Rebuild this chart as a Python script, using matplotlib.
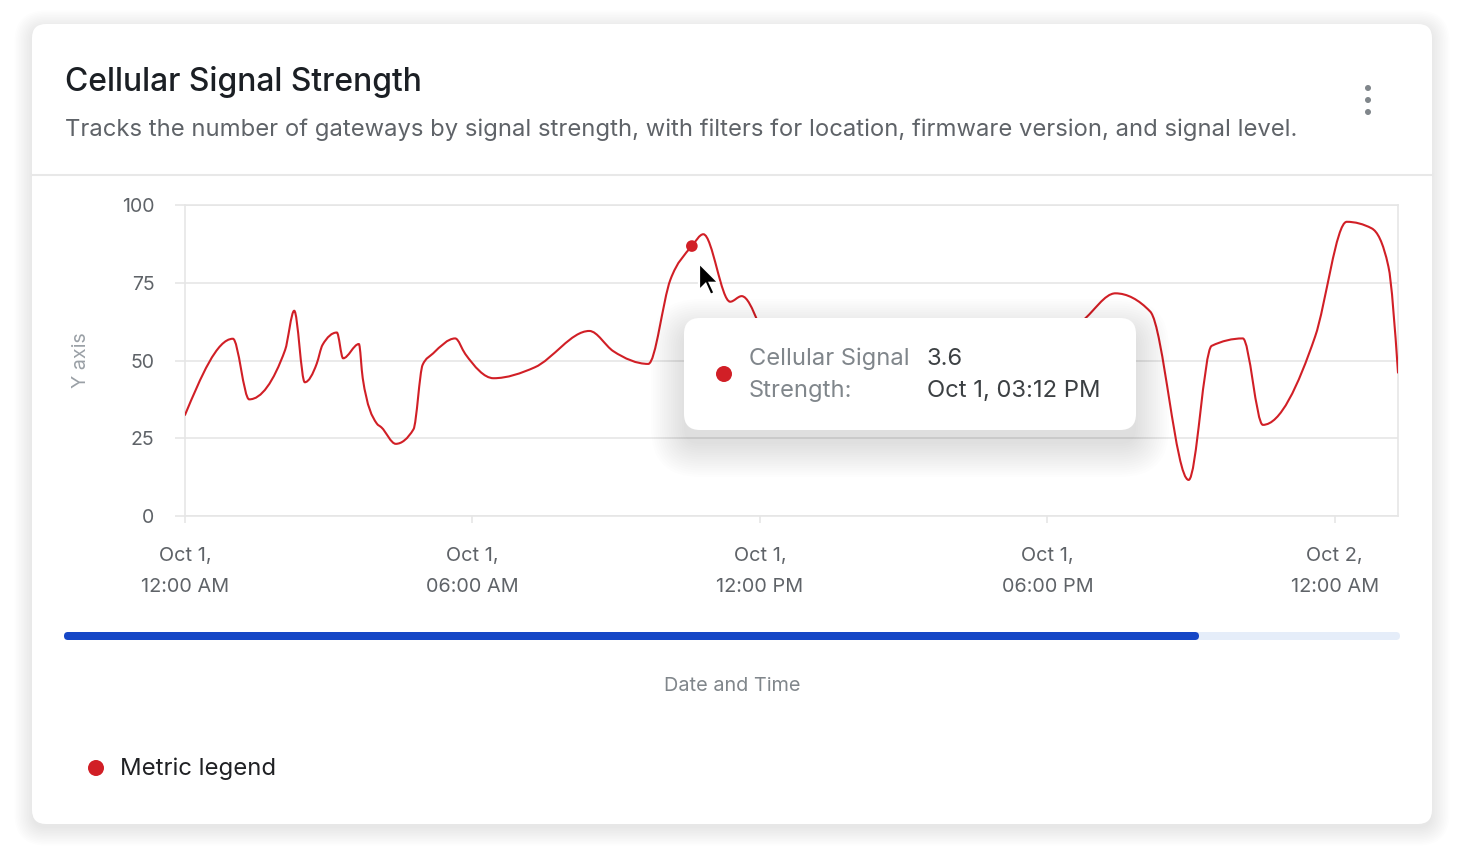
import numpy as np
import matplotlib
matplotlib.use("Agg")
import matplotlib.pyplot as plt
from matplotlib.patches import FancyBboxPatch, PathPatch, Polygon, Circle
from matplotlib.path import Path

plt.rcParams['font.family'] = ['Inter', 'DejaVu Sans']

# ---------------- data ----------------
hours = [0.0, 1.0, 1.34, 2.09, 2.28, 2.5, 2.75, 2.87, 3.17, 3.3, 3.63, 3.71,
         4.0, 4.1, 4.4, 4.77, 4.96, 5.18, 5.64, 5.85, 6.44, 7.3, 8.44, 8.94,
         9.67, 10.13, 10.58, 10.82, 11.38, 11.62, 12.3, 13.4, 14.8, 16.2,
         17.6, 18.75, 19.42, 20.15, 20.95, 21.43, 22.08, 22.5, 23.59, 24.25,
         24.77, 25.12, 25.32]
values = [32.5, 57.0, 37.5, 53.4, 66.0, 43.0, 49.0, 55.0, 59.0, 50.7, 55.3, 44.3,
          29.8, 28.5, 23.2, 27.9, 48.6, 52.3, 57.1, 52.1, 44.3, 47.8, 59.5, 53.0,
          48.9, 75.9, 86.8, 90.6, 68.9, 70.7, 52.0, 46.0, 55.0, 44.0,
          50.0, 63.0, 71.6, 65.7, 11.6, 54.7, 57.1, 29.3, 57.7, 94.6,
          92.5, 80.2, 46.1]
x_ticks = [0, 6, 12, 18, 24]
x_tick_labels = ["Oct 1,\n12:00 AM", "Oct 1,\n06:00 AM", "Oct 1,\n12:00 PM",
                 "Oct 1,\n06:00 PM", "Oct 2,\n12:00 AM"]
y_ticks = [0, 25, 50, 75, 100]
hover_index = 26
tooltip_value = "3.6"
tooltip_time = "Oct 1, 03:12 PM"

RED = '#D11F26'
W, H = 1464, 864

fig = plt.figure(figsize=(W / 100, H / 100), dpi=100)
fig.patch.set_facecolor('white')

# background canvas in pixel coords
bg = fig.add_axes([0, 0, 1, 1], zorder=0)
bg.set_xlim(0, W)
bg.set_ylim(H, 0)
bg.axis('off')

# card shadow
for i in range(12):
    s = i * 1.6
    bg.add_patch(FancyBboxPatch((32 - s, 24 - s + 4), 1400 + 2 * s, 800 + 2 * s,
                                boxstyle="round,pad=0,rounding_size=%f" % (14 + s),
                                fc='black', ec='none', alpha=0.006, zorder=1))
bg.add_patch(FancyBboxPatch((32, 24), 1400, 800,
                            boxstyle="round,pad=0,rounding_size=14",
                            fc='white', ec='none', zorder=2))
bg.plot([32, 1432], [175, 175], color='#E8E8E8', lw=1.5, zorder=3)

bg.text(65, 82.5, "Cellular Signal Strength", fontsize=22.95, color='#1B1F24',
        fontweight='medium', va='center', ha='left', zorder=4)
bg.text(65, 129.5, "Tracks the number of gateways by signal strength, with filters for location, firmware version, and signal level.",
        fontsize=17.15, color='#5F6368', va='center', ha='left', zorder=4)
for yy in (88, 100, 112):
    bg.add_patch(Circle((1368, yy), 3, fc='#80868B', ec='none', zorder=4))

# slider
bg.add_patch(FancyBboxPatch((64, 632), 1336, 8, boxstyle="round,pad=0,rounding_size=4",
                            fc='#E5EDF9', ec='none', zorder=4))
bg.add_patch(FancyBboxPatch((64, 632), 1135, 8, boxstyle="round,pad=0,rounding_size=4",
                            fc='#1546C6', ec='none', zorder=5))

bg.text(732, 686, "Date and Time", fontsize=14.3, color='#80868B', ha='center', va='center', zorder=4)
bg.text(81, 360, "Y axis", fontsize=14.2, color='#9AA0A6', ha='center', va='center',
        rotation=90, zorder=4)

# legend
bg.add_patch(Circle((96, 768), 8, fc=RED, ec='none', zorder=4))
bg.text(120, 769, "Metric legend", fontsize=17.2, color='#202124', ha='left', va='center', zorder=4)

# ---------------- main axes ----------------
L, R, T, B = 185, 1398, 205, 516
ax = fig.add_axes([L / W, 1 - B / H, (R - L) / W, (B - T) / H], zorder=2)
ax.set_facecolor('none')
ax.set_xlim(0, 25.32)
ax.set_ylim(0, 100)
for sp in ax.spines.values():
    sp.set_color('#E6E6E6')
    sp.set_linewidth(1.2)
ax.set_yticks(y_ticks)
ax.set_yticklabels([str(v) for v in y_ticks])
ax.set_xticks(x_ticks)
ax.set_xticklabels(x_tick_labels, linespacing=1.95)
ax.tick_params(axis='y', length=7, width=1.2, color='#E6E6E6', pad=15,
               labelsize=14, labelcolor='#5F6368')
ax.tick_params(axis='x', length=5, width=1.2, color='#E6E6E6', pad=17,
               labelsize=14.3, labelcolor='#5F6368')
ax.grid(axis='y', color='#E6E6E6', lw=1.2)
ax.set_axisbelow(True)


def monotone_path(xs, ys):
    xs = np.asarray(xs, float)
    ys = np.asarray(ys, float)
    n = len(xs)
    h = np.diff(xs)
    s = np.diff(ys) / h
    m = np.zeros(n)
    for i in range(1, n - 1):
        s0, s1 = s[i - 1], s[i]
        p = (s0 * h[i] + s1 * h[i - 1]) / (h[i - 1] + h[i])
        m[i] = (np.sign(s0) + np.sign(s1)) * min(abs(s0), abs(s1), 0.5 * abs(p))
    m[0] = (3 * s[0] - m[1]) / 2
    m[-1] = (3 * s[-1] - m[-2]) / 2
    verts = [(xs[0], ys[0])]
    codes = [Path.MOVETO]
    for i in range(n - 1):
        d = h[i] / 3
        verts += [(xs[i] + d, ys[i] + m[i] * d), (xs[i + 1] - d, ys[i + 1] - m[i + 1] * d),
                  (xs[i + 1], ys[i + 1])]
        codes += [Path.CURVE4] * 3
    return Path(verts, codes)


ax.add_patch(PathPatch(monotone_path(hours, values), fc='none', ec=RED, lw=1.5,
                       zorder=3, capstyle='round', joinstyle='round'))
ax.scatter([hours[hover_index]], [values[hover_index]], s=70, color=RED, zorder=4,
           edgecolors='none')

# ---------------- overlay (tooltip, cursor) ----------------
ov = fig.add_axes([0, 0, 1, 1], zorder=5)
ov.set_facecolor('none')
ov.set_xlim(0, W)
ov.set_ylim(H, 0)
ov.axis('off')

for i in range(16):
    s = i * 2.2
    ov.add_patch(FancyBboxPatch((684 - s, 318 - s + 14), 452 + 2 * s, 112 + 2 * s,
                                boxstyle="round,pad=0,rounding_size=%f" % (16 + s),
                                fc='black', ec='none', alpha=0.007, zorder=1))
ov.add_patch(FancyBboxPatch((684, 318), 452, 112, boxstyle="round,pad=0,rounding_size=16",
                            fc='white', ec='none', zorder=2))
ov.add_patch(Circle((724, 374), 8, fc=RED, ec='none', zorder=3))
ov.text(749, 359, "Cellular Signal", fontsize=17.1, color='#80868B', ha='left', va='center', zorder=3)
ov.text(749, 391, "Strength:", fontsize=17.1, color='#80868B', ha='left', va='center', zorder=3)
ov.text(927, 359, tooltip_value, fontsize=17.1, color='#3C4043', ha='left', va='center', zorder=3)
ov.text(927, 391, tooltip_time, fontsize=17.1, color='#3C4043', ha='left', va='center', zorder=3)

# mouse cursor
cx, cy = 699, 263
cursor = np.array([[0, 0], [0, 23], [5.5, 17.5], [9.5, 26.5], [13, 25], [9, 16.5], [16.5, 16.5]]) * 1.2
ov.add_patch(Polygon(cursor + [cx, cy], closed=True, fc='black', ec='white', lw=1.6,
                     joinstyle='miter', zorder=4))

fig.savefig('out.png', dpi=100, facecolor='white')
